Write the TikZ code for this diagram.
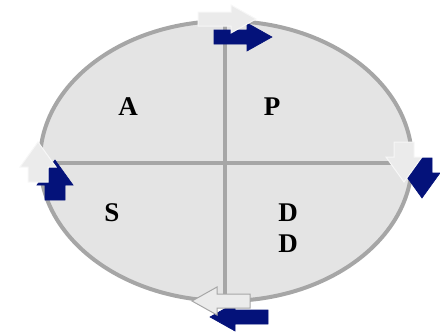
\documentclass[tikz,border=0pt]{standalone}
\usepackage{fontspec}
\setmainfont{Liberation Serif}
\usetikzlibrary{positioning}
\definecolor{navy}{RGB}{4,18,122}
\definecolor{ringgray}{RGB}{166,166,166}
\definecolor{ringfill}{RGB}{228,228,228}

\begin{document}
\begin{tikzpicture}
	[x=0.5pt,y=-0.5pt,
	letter/.style={font=\fontsize{13.5}{16}\selectfont\bfseries,inner sep=0pt},
	ghost/.style={fill=black!8,draw=black!3,line width=0.5pt},
	solid arrow/.style={fill=navy,draw=navy,line width=0.3pt},
	cross/.style={draw=ringgray,line width=1.8pt},
	harrow/.pic={\path[pic actions] (0,-7)--(33,-7)--(33,-14)--(58,0)--(33,14)--(33,7)--(0,7)--cycle;},
	varrow/.pic={\path[pic actions] (-10,0)--(-10,-15)--(-18,-15)--(0,-40)--(18,-15)--(10,-15)--(10,0)--cycle;}]
	\useasboundingbox (0,0) rectangle (440,333);
	
	\coordinate (c) at (226,161);
	\fill[ringfill] (c) ellipse [x radius=186,y radius=140];
	\coordinate (n) at (225,21);
	\coordinate (s) at (225,301);
	\coordinate (w) at (40,163);
	\coordinate (e) at (412,163);
	\draw[cross] (n) -- (s);
	\draw[cross] (w) -- (e);
	\draw[ringgray,line width=2pt] (c) ellipse [x radius=186,y radius=140];
	
	\node [letter] (a) at (128,107) {A};
	\node [letter] (p) at (272,107) {P};
	\node [letter] (st) at (112,213) {S};
	\node [letter] (d1) at (288,213) {D};
	\node [letter] (d2) at (288,244) {D};
	
	% cycle arrows
	\pic [solid arrow] at (214,37) {harrow};
	\pic [ghost] at (198,19) {harrow};
	\pic [solid arrow,rotate=180] at (422,158) {varrow};
	\pic [ghost,rotate=180] at (404,142) {varrow};
	\pic [solid arrow,rotate=180] at (268,317) {harrow};
	\pic [ghost,draw=ringgray,rotate=180] at (250,301) {harrow};
	\pic [solid arrow] at (55,200) {varrow};
	\pic [ghost] at (38,182) {varrow};
\end{tikzpicture}
\end{document}
